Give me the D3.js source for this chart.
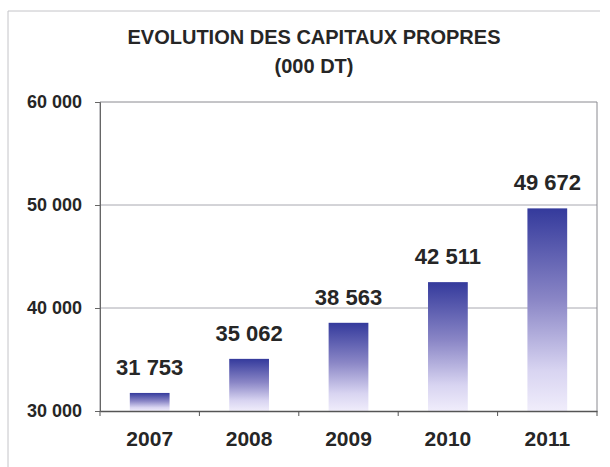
<!DOCTYPE html>
<html lang="fr">
<head>
<meta charset="utf-8">
<title>Evolution des capitaux propres</title>
<script src="https://cdn.jsdelivr.net/npm/d3@7"></script>
<style>
  body { margin: 0; background: #fff; font-family: "Liberation Sans", Arial, sans-serif; }
  .title { font-size: 20px; font-weight: bold; fill: #262626; text-anchor: middle; }
  .axis text { font-size: 18px; font-weight: bold; fill: #262626; }
  .x-axis text { font-size: 21px; }
  .value { font-size: 22px; font-weight: bold; fill: #262626; text-anchor: middle; }
</style>
</head>
<body>
<svg id="chart" width="610" height="467"></svg>
<script>
var years = ["2007", "2008", "2009", "2010", "2011"];
var values = [31753, 35062, 38563, 42511, 49672];
var yTicks = [30000, 40000, 50000, 60000];

var svg = d3.select("#chart"),
    margin = { top: 102, right: 13, bottom: 56, left: 100 },
    width = 610 - margin.left - margin.right,
    height = 467 - margin.top - margin.bottom;

// outer frame of the scanned chart (left and top only)
svg.append("path")
    .attr("d", "M8,467V11H600")
    .attr("fill", "none")
    .attr("stroke", "#c4c4c8")
    .attr("stroke-width", 1);

svg.append("text").attr("class", "title").attr("x", 314).attr("y", 44)
    .text("EVOLUTION DES CAPITAUX PROPRES");
svg.append("text").attr("class", "title").attr("x", 314).attr("y", 73)
    .text("(000 DT)");

var defs = svg.append("defs");
var grad = defs.append("linearGradient")
    .attr("id", "barGrad")
    .attr("x1", 0).attr("y1", 0).attr("x2", 0).attr("y2", 1);
grad.append("stop").attr("offset", "0%").attr("stop-color", "#343a9c");
grad.append("stop").attr("offset", "45%").attr("stop-color", "#8a86c6");
grad.append("stop").attr("offset", "80%").attr("stop-color", "#d8d4f1");
grad.append("stop").attr("offset", "100%").attr("stop-color", "#f0edfb");

var g = svg.append("g").attr("transform", "translate(" + margin.left + "," + margin.top + ")");

var x = d3.scaleBand().domain(years).range([0, width]).paddingInner(0.6).paddingOuter(0.3);
var xb = d3.scaleBand().domain(years).range([0, width]);
var y = d3.scaleLinear().domain([30000, 60000]).range([height, 0]);

var fmt = function (d) { return d3.format(",")(d).replace(/,/g, " "); };

// gridlines
g.selectAll(".grid")
    .data(yTicks.slice(1, -1))
    .enter().append("line")
    .attr("x1", 0).attr("x2", width)
    .attr("y1", function (d) { return y(d); })
    .attr("y2", function (d) { return y(d); })
    .attr("stroke", "#a8a8b0")
    .attr("stroke-width", 1);

// plot frame
g.append("path")
    .attr("d", "M0," + height + "V0H" + width + "V" + height)
    .attr("fill", "none")
    .attr("stroke", "#8a8a90")
    .attr("stroke-width", 1);

g.selectAll(".bar")
    .data(values)
    .enter().append("rect")
    .attr("class", "bar")
    .attr("x", function (d, i) { return x(years[i]); })
    .attr("y", function (d) { return y(d); })
    .attr("width", x.bandwidth())
    .attr("height", function (d) { return y(30000) - y(d); })
    .attr("fill", "url(#barGrad)");

g.selectAll(".value")
    .data(values)
    .enter().append("text")
    .attr("class", "value")
    .attr("x", function (d, i) { return x(years[i]) + x.bandwidth() / 2; })
    .attr("y", function (d) { return y(d) - 18; })
    .text(fmt);

var yAxis = g.append("g")
    .attr("class", "axis")
    .call(d3.axisLeft(y).tickValues(yTicks).tickFormat(fmt).tickSize(5).tickPadding(13));
yAxis.select(".domain").attr("stroke", "#666");
yAxis.selectAll(".tick line").attr("stroke", "#666");

var xAxis = g.append("g")
    .attr("class", "axis x-axis")
    .attr("transform", "translate(0," + height + ")")
    .call(d3.axisBottom(xb).tickSize(0).tickPadding(20));
xAxis.select(".domain").attr("stroke", "#555").attr("stroke-width", 1.5);

// category separator ticks
g.selectAll(".xsep")
    .data(d3.range(years.length + 1))
    .enter().append("line")
    .attr("x1", function (i) { return i * xb.step(); })
    .attr("x2", function (i) { return i * xb.step(); })
    .attr("y1", height).attr("y2", height + 5)
    .attr("stroke", "#555");
</script>
</body>
</html>
